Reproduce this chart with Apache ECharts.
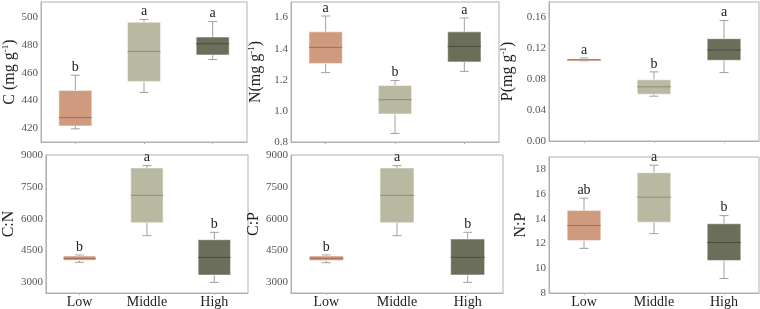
<!DOCTYPE html>
<html>
<head>
<meta charset="utf-8">
<script src="https://cdn.jsdelivr.net/npm/echarts@6/dist/echarts.min.js"></script>
<style>
  html, body { margin: 0; padding: 0; background: #fff; }
  #chart-container { width: 760px; height: 309px; }
</style>
</head>
<body>
<div id="chart-container"></div>
<script>
// groups on the x axis
const groups = ['Low', 'Middle', 'High'];

// box values per group: [whisker low, q1, median, q3, whisker high]
const cBox = [[419.5, 421.6, 427.6, 447.2, 458.2], [445.8, 453.7, 475.4, 496.4, 498.4], [469.5, 472.8, 480.9, 485.7, 496.9]];
const nBox = [[1.246, 1.304, 1.408, 1.508, 1.61], [0.855, 0.98, 1.072, 1.163, 1.195], [1.254, 1.315, 1.415, 1.508, 1.597]];
const pBox = [[0.1037, 0.1041, 0.1052, 0.1063, 0.1076], [0.058, 0.0606, 0.0702, 0.0792, 0.0895], [0.0886, 0.1045, 0.118, 0.1325, 0.156]];
const cnBox = [[3943, 4037, 4131, 4241, 4288], [5199, 5812, 7100, 8389, 8499], [3000, 3346, 4178, 5011, 5357]];
const cpBox = [[3927, 4030, 4131, 4241, 4290], [5200, 5812, 7100, 8389, 8500], [3000, 3350, 4178, 5040, 5360]];
const npBox = [[11.61, 12.24, 13.46, 14.68, 15.67], [12.8, 13.73, 15.75, 17.73, 18.34], [9.17, 10.63, 12.08, 13.6, 14.26]];

// significance letters
const cLetters = ['b', 'a', 'a'];
const nLetters = ['a', 'b', 'a'];
const pLetters = ['a', 'b', 'a'];
const cnLetters = ['b', 'a', 'b'];
const cpLetters = ['b', 'a', 'b'];
const npLetters = ['ab', 'a', 'b'];

// tick labels shown on each y axis
const cTicks = [420, 440, 460, 480, 500];
const nTicks = [0.8, 1.0, 1.2, 1.4, 1.6];
const pTicks = [0, 0.04, 0.08, 0.12, 0.16];
const cnTicks = [3000, 4500, 6000, 7500, 9000];
const cpTicks = [3000, 4500, 6000, 7500, 9000];
const npTicks = [8, 10, 12, 14, 16, 18];

const fills = ['#D09A7E', '#B9B9A2', '#6B6F59'];
const medians = ['#A26F58', '#8C8C78', '#4B4E3E'];
const whisker = '#A0A0A0';
const serif = "'Liberation Serif', 'Times New Roman', serif";

const panels = [
  { name: '{n|C (mg g}{s|-1}{n|)}', box: cBox, letters: cLetters, ticks: cTicks, min: 410, max: 511, step: 10, dec: 0, gap: 23, grid: { left: 36, top: 2, width: 211, height: 140 } },
  { name: '{n|N(mg g}{s|-1}{n|)}', box: nBox, letters: nLetters, ticks: nTicks, min: 0.8, max: 1.7, step: 0.1, dec: 1, gap: 27, grid: { left: 291, top: 2, width: 208, height: 140 } },
  { name: '{n|P(mg g}{s|-1}{n|)}', box: pBox, letters: pLetters, ticks: pTicks, min: 0, max: 0.18, step: 0.02, dec: 2, gap: 33, grid: { left: 549, top: 2, width: 210, height: 139 } },
  { name: '{n|C:N}', box: cnBox, letters: cnLetters, ticks: cnTicks, min: 2500, max: 9000, step: 500, dec: 0, gap: 24, grid: { left: 37, top: 155, width: 211, height: 139 } },
  { name: '{n|C:P}', box: cpBox, letters: cpLetters, ticks: cpTicks, min: 2500, max: 9000, step: 500, dec: 0, gap: 28, grid: { left: 291, top: 155, width: 212, height: 139 } },
  { name: '{n|N:P}', box: npBox, letters: npLetters, ticks: npTicks, min: 8, max: 19, step: 1, dec: 0, gap: 20, grid: { left: 549, top: 157, width: 210, height: 139 } },
];

function boxRenderer(letters) {
  return function (params, api) {
    const i = api.value(0);
    const lo = api.coord([i, api.value(1)]);
    const q1 = api.coord([i, api.value(2)]);
    const md = api.coord([i, api.value(3)]);
    const q3 = api.coord([i, api.value(4)]);
    const hi = api.coord([i, api.value(5)]);
    const x = lo[0];
    const bw = api.size([1, 0])[0] * 0.48;
    const cw = 4.5;
    const ls = { stroke: whisker, lineWidth: 1 };
    return {
      type: 'group',
      children: [
        { type: 'line', shape: { x1: x, y1: hi[1], x2: x, y2: q3[1] }, style: ls },
        { type: 'line', shape: { x1: x, y1: q1[1], x2: x, y2: lo[1] }, style: ls },
        { type: 'line', shape: { x1: x - cw, y1: hi[1], x2: x + cw, y2: hi[1] }, style: ls },
        { type: 'line', shape: { x1: x - cw, y1: lo[1], x2: x + cw, y2: lo[1] }, style: ls },
        {
          type: 'rect',
          shape: { x: x - bw / 2, y: q3[1], width: bw, height: Math.max(q1[1] - q3[1], 2) },
          style: { fill: fills[i], stroke: 'rgba(255,255,255,0.5)', lineWidth: 1 },
        },
        { type: 'line', shape: { x1: x - bw / 2, y1: md[1], x2: x + bw / 2, y2: md[1] }, style: { stroke: medians[i], lineWidth: 1 } },
        {
          type: 'text',
          style: {
            text: letters[i], x: x, y: hi[1] - 1, align: 'center', verticalAlign: 'bottom',
            fontSize: 14, fontFamily: serif, fill: '#222',
          },
        },
      ],
    };
  };
}

const option = {
  animation: false,
  grid: panels.map((p) => Object.assign({ show: true, borderColor: '#B0B0B0', borderWidth: 1, backgroundColor: '#fff' }, p.grid)),
  xAxis: panels.map((p, k) => ({
    type: 'category',
    gridIndex: k,
    data: groups,
    axisLine: { lineStyle: { color: '#B0B0B0' } },
    axisTick: { show: true, alignWithLabel: true, length: 2, lineStyle: { color: '#B0B0B0' } },
    axisLabel: { show: k >= 3, margin: 2, fontSize: 14, fontFamily: serif, color: '#222' },
    splitLine: { show: false },
  })),
  yAxis: panels.map((p, k) => ({
    type: 'value',
    gridIndex: k,
    min: p.min,
    max: p.max,
    interval: p.step,
    name: p.name,
    nameLocation: 'middle',
    nameRotate: 90,
    nameGap: p.gap,
    nameTextStyle: {
      rich: {
        n: { fontSize: 16, fontFamily: serif, color: '#222' },
        s: { fontSize: 9, fontFamily: serif, color: '#222', verticalAlign: 'top', padding: [0, 0, 8, 0] },
      },
    },
    axisLine: { show: true, lineStyle: { color: '#B0B0B0' } },
    axisTick: { show: false },
    splitLine: { show: false },
    axisLabel: {
      margin: 3,
      fontSize: 11,
      fontFamily: serif,
      color: '#555',
      formatter: function (v) {
        const hit = p.ticks.some((t) => Math.abs(t - v) < p.step / 100);
        return hit ? v.toFixed(p.dec) : '';
      },
    },
  })),
  series: panels.map((p, k) => ({
    type: 'custom',
    xAxisIndex: k,
    yAxisIndex: k,
    renderItem: boxRenderer(p.letters),
    encode: { x: 0, y: [1, 2, 3, 4, 5] },
    data: p.box.map((b, i) => [i].concat(b)),
    clip: false,
  })),
};

var myChart = echarts.init(document.getElementById('chart-container'));
myChart.setOption(option);
</script>
</body>
</html>
